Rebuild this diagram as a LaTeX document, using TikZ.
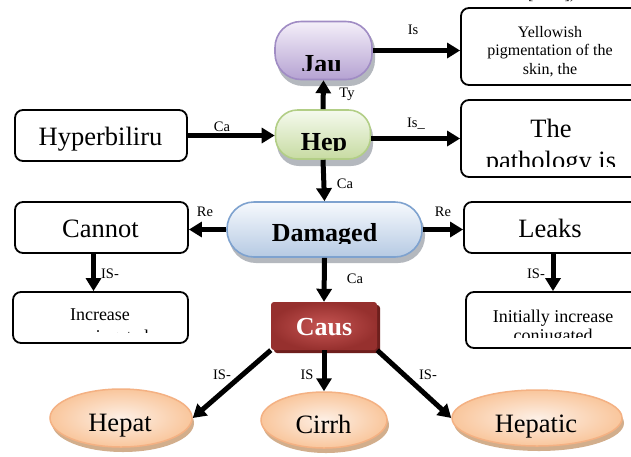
\documentclass[tikz,border=0pt]{standalone}
\usepackage{fontspec}
\setmainfont{Liberation Serif}
\usetikzlibrary{arrows.meta,shapes.geometric}
\definecolor{jauTop}{HTML}{F4EFF9}
\definecolor{jauBot}{HTML}{B5A2D2}
\definecolor{jauLine}{HTML}{A08CC4}
\definecolor{hepTop}{HTML}{F5FAEE}
\definecolor{hepBot}{HTML}{C7DBA2}
\definecolor{hepLine}{HTML}{B2CE86}
\definecolor{damTop}{HTML}{F6F9FD}
\definecolor{damBot}{HTML}{B6CAE3}
\definecolor{damLine}{HTML}{7EA2CF}
\definecolor{causIn}{HTML}{C65553}
\definecolor{causOut}{HTML}{96302E}
\definecolor{causEdge}{HTML}{6E1F1D}
\definecolor{ellIn}{HTML}{FDF0E6}
\definecolor{ellOut}{HTML}{F9C69C}
\definecolor{ellLine}{HTML}{F4B183}
\definecolor{ellShadow}{HTML}{D2AE8C}
\definecolor{capShadow}{HTML}{B4B8BE}
\begin{document}
\begin{tikzpicture}[x=1pt,y=-1pt,
  box/.style={draw=black, line width=1.8pt, rounded corners=8pt, fill=white, inner sep=0pt, rectangle},
  capsule/.style={rectangle, inner sep=0pt, line width=1.6pt},
  ell/.style={ellipse, inner sep=0pt, draw=ellLine, line width=1.5pt, inner color=ellIn, outer color=ellOut},
  conn/.style={line width=5pt, -{Triangle[width=15pt,length=13pt]}},
  lab/.style={font=\fontsize{14.5}{17}\selectfont, inner sep=0pt},
  big/.style={font=\fontsize{26.5}{30}\selectfont, anchor=base, inner sep=0pt},
  bigb/.style={font=\fontsize{26}{30}\selectfont\bfseries, anchor=base, inner sep=0pt},
  small/.style={font=\fontsize{16}{19}\selectfont, anchor=base, inner sep=0pt},
  mid/.style={font=\fontsize{18}{21}\selectfont, anchor=base, inner sep=0pt},
]
\fill[white] (0,0) rectangle (631,456);
\useasboundingbox (0,0) rectangle (631,456);

% shadows
\fill[capShadow, rounded corners=26pt] (277,25) rectangle (375,86);
\fill[capShadow, rounded corners=22pt] (277,115) rectangle (373,166);
\fill[capShadow, rounded corners=27pt] (229,207) rectangle (425,263);
\fill[causEdge, rounded corners=3pt] (274,305) rectangle (380,353);
\fill[ellShadow] (123,423) ellipse [x radius=71pt, y radius=29pt];
\fill[ellShadow] (326,425) ellipse [x radius=63pt, y radius=28pt];
\fill[ellShadow] (539,423) ellipse [x radius=85pt, y radius=28pt];

% main shapes
\node[capsule, draw=jauLine, top color=jauTop, bottom color=jauBot, rounded corners=26pt,
      minimum width=97pt, minimum height=58pt] (jau) at (323.5,50.5) {};
\node[capsule, draw=hepLine, top color=hepTop, bottom color=hepBot, rounded corners=22pt,
      minimum width=95pt, minimum height=49pt] (hep) at (323,134.5) {};
\node[capsule, draw=damLine, top color=damTop, bottom color=damBot, rounded corners=27pt,
      minimum width=195pt, minimum height=55pt] (dam) at (324.5,229.5) {};
\node[rectangle, inner sep=0pt, rounded corners=3pt, inner color=causIn, outer color=causOut,
      minimum width=106pt, minimum height=48pt] (caus) at (324,326) {};

\node[box, minimum width=189pt, minimum height=77pt] (yel) at (555.5,46.5) {};
\node[box, minimum width=189pt, minimum height=77pt] (the) at (555.5,138.5) {};
\node[box, minimum width=172pt, minimum height=51pt] (hyp) at (101,135.5) {};
\node[box, minimum width=173pt, minimum height=51pt] (cannot) at (101.5,227.5) {};
\node[box, minimum width=186pt, minimum height=51pt] (leaks) at (557,227.5) {};
\node[box, minimum width=175pt, minimum height=51pt] (incr) at (100.5,317.5) {};
\node[box, minimum width=184pt, minimum height=56pt] (init) at (558,320) {};

\node[ell, minimum width=142pt, minimum height=58pt] (hepat) at (121,418) {};
\node[ell, minimum width=126pt, minimum height=56pt] (cirrh) at (324,420) {};
\node[ell, minimum width=170pt, minimum height=56pt] (hepatic) at (537,418) {};

% texts
\node[small, anchor=base west] (ref) at (528,-0.5) {[\hspace{31pt}],};
\node[small] (yel1) at (550,37) {Yellowish};
\node[small] (yel2) at (550,55.5) {pigmentation of the};
\node[small] (yel3) at (550,74) {skin, the};
\node[big] (the1) at (551,137) {The};
\begin{scope}
  \clip (461,145) rectangle (650,166);
  \node[big] (the2) at (551,169) {pathology is};
\end{scope}
\node[big] (hyptxt) at (100.5,145) {Hyperbiliru};
\node[big] (cantxt) at (100.5,237) {Cannot};
\node[big] (leaktxt) at (550,237) {Leaks};
\node[mid] (incr1) at (100,320) {Increase};
\begin{scope}
  \clip (20,324) rectangle (180,332.5);
  \node[mid] (incr2) at (100,342) {unconjugated};
\end{scope}
\node[mid] (init1) at (553,322) {Initially increase};
\begin{scope}
  \clip (470,326) rectangle (630,337);
  \node[mid] (init2) at (553,341) {conjugated};
\end{scope}
\begin{scope}
  \clip (270,20) rectangle (380,70.5);
  \node[bigb] (jautxt) at (321.5,72) {Jau};
\end{scope}
\begin{scope}
  \clip (270,110) rectangle (380,150.5);
  \node[bigb] (heptxt) at (324,150) {Hep};
\end{scope}
\begin{scope}
  \clip (225,200) rectangle (425,243);
  \node[bigb] (damtxt) at (324.5,241) {Damaged};
\end{scope}
\node[bigb, text=white] (caustxt) at (324,335) {Caus};
\node[big] (hepattxt) at (120,431) {Hepat};
\node[big] (cirrhtxt) at (323.5,433) {Cirrh};
\node[big] (hepatictxt) at (536,432.5) {Hepatic};

% connectors
\draw[conn] (hep.north) -- (jau.south);
\draw[conn] (jau.east) -- (jau.east -| yel.west);
\draw[conn] (hyp.east) -- (hyp.east -| hep.west);
\draw[conn] (the.west -| hep.east) -- (the.west);
\draw[conn] (hep.south) -- (dam.north);
\draw[conn] (dam.west) -- (dam.west -| cannot.east);
\draw[conn] (dam.east) -- (dam.east -| leaks.west);
\draw[conn] ([xshift=-8pt]cannot.south) -- ([xshift=-8pt]cannot.south |- incr.north);
\draw[conn] ([xshift=-4pt]leaks.south) -- ([xshift=-4pt]leaks.south |- init.north);
\draw[conn] (dam.south) -- (caus.north);
\draw[conn] (caus.south west) -- (hepat.east);
\draw[conn] (caus.south) -- (cirrh.north);
\draw[conn] (caus.south east) -- (hepatic.west);

% labels
\node[lab] (l1) at (413,30) {Is};
\node[lab] (l2) at (347,94) {Ty};
\node[lab] (l3) at (222,127) {Ca};
\node[lab] (l4) at (416,124) {Is\_};
\node[lab] (l5) at (345,184) {Ca};
\node[lab] (l6) at (205,212) {Re};
\node[lab] (l7) at (443,212) {Re};
\node[lab] (l8) at (110,274) {IS-};
\node[lab] (l9) at (536,274) {IS-};
\node[lab] (l10) at (355,279) {Ca};
\node[lab] (l11) at (222,375) {IS-};
\node[lab] (l12) at (307,375) {IS};
\node[lab] (l13) at (428,375) {IS-};
\end{tikzpicture}
\end{document}
